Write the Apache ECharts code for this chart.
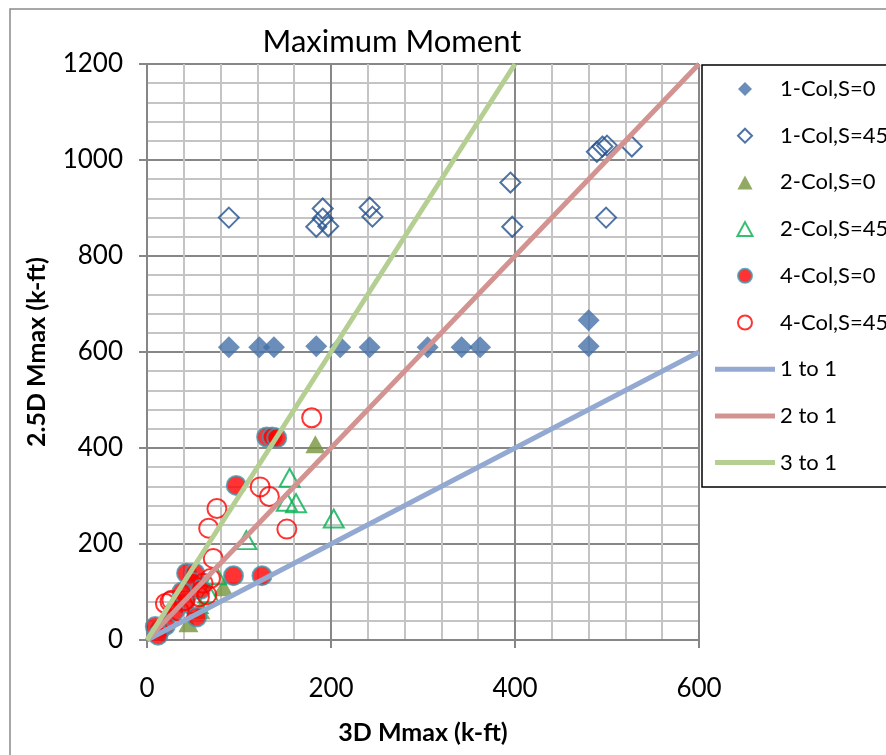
<!DOCTYPE html>
<html>
<head>
<meta charset="utf-8">
<script src="https://cdn.jsdelivr.net/npm/echarts@6/dist/echarts.min.js"></script>
<style>
  html, body { margin: 0; padding: 0; background: #fff; }
  #chart { width: 886px; height: 755px; }
</style>
</head>
<body>
<div id="chart"></div>
<script>
// values: [3D Mmax, 2.5D Mmax] in k-ft
var col1S0 = [[89,610],[122,610],[138,610],[184,612],[210,610],[242,610],[305,610],[342,610],[362,610],[480,612],[480,666]];
var col1S45 = [[89,880],[184,861],[191,878],[197,862],[191,899],[242,901],[245,882],[395,953],[397,861],[499,880],[489,1017],[495,1028],[500,1030],[527,1028]];
var col2S0 = [[183,408],[83,110],[45,35],[58,62]];
var col2S45 = [[155,338],[152,288],[162,285],[203,253],[108,208],[75,135],[67,97],[55,75]];
var col4S0 = [[130,423],[136,423],[141,421],[97,322],[94,134],[125,134],[43,139],[52,139],[41,77],[50,120],[58,105],[38,100],[30,60],[54,48],[20,30],[14,21],[9,28],[12,10]];
var col4S45 = [[179,463],[123,319],[133,299],[76,274],[67,233],[152,231],[72,170],[69,128],[61,118],[65,94],[57,90],[41,82],[25,80],[20,76],[27,83],[35,60]];

var oneToOne = [[0,0],[600,600]];
var twoToOne = [[0,0],[600,1200]];
var threeToOne = [[0,0],[400,1200]];

var xTicks = [0, 600, 200];
var yTicks = [0, 1200, 200];

var font = 'Lato, "DejaVu Sans", sans-serif';
var lineIcon = 'path://M0,0L60,0L60,5L0,5Z';
var diamondIcon = 'path://M7,0L14,7L7,14L0,7Z';
var triangleIcon = 'path://M7,0L14,13L0,13Z';

var chart = echarts.init(document.getElementById('chart'));

function scatter(name, data, symbol, size, style) {
    return {
        name: name,
        type: 'scatter',
        data: data,
        symbol: symbol,
        symbolSize: size,
        itemStyle: style,
        emphasis: {disabled: true}
    };
}

function refLine(name, data, color) {
    return {
        name: name,
        type: 'line',
        data: data,
        symbol: 'none',
        z: 5,
        lineStyle: {color: color, width: 5},
        itemStyle: {color: color},
        emphasis: {disabled: true}
    };
}

chart.setOption({
    backgroundColor: '#fff',
    animation: false,
    textStyle: {fontFamily: font},
    graphic: [{
        type: 'rect',
        shape: {x: 10, y: 9, width: 900, height: 800},
        style: {fill: 'none', stroke: '#8a8a8a', lineWidth: 1.5},
        silent: true,
        z: 0
    }, {
        type: 'rect',
        shape: {x: 702, y: 65, width: 200, height: 422},
        style: {fill: '#fff', stroke: '#000', lineWidth: 1.5},
        silent: true,
        z: 1
    }, {
        type: 'text',
        x: 392, y: 42,
        style: {
            text: 'Maximum Moment', font: '31px ' + font, fill: '#000',
            align: 'center', verticalAlign: 'middle'
        },
        z: 1
    }],
    grid: {left: 147, top: 64, right: 187, bottom: 115, containLabel: false},
    legend: {
        orient: 'vertical',
        left: 710,
        top: 72,
        itemWidth: 60,
        itemHeight: 14,
        itemGap: 22.7,
        z: 10,
        textStyle: {fontSize: 22, lineHeight: 24, color: '#000', fontFamily: font},
        data: [
            {name: '1-Col,S=0', icon: diamondIcon},
            {name: '1-Col,S=45', icon: diamondIcon},
            {name: '2-Col,S=0', icon: triangleIcon},
            {name: '2-Col,S=45', icon: triangleIcon},
            {name: '4-Col,S=0', icon: 'circle'},
            {name: '4-Col,S=45', icon: 'circle'},
            {name: '1 to 1', icon: lineIcon},
            {name: '2 to 1', icon: lineIcon},
            {name: '3 to 1', icon: lineIcon}
        ]
    },
    xAxis: {
        type: 'value',
        min: xTicks[0], max: xTicks[1], interval: xTicks[2],
        name: '3D Mmax (k-ft)',
        nameLocation: 'middle',
        nameGap: 80,
        nameTextStyle: {fontSize: 25, fontWeight: 'bold', color: '#000', fontFamily: font},
        axisLine: {lineStyle: {color: '#868686', width: 2}},
        axisTick: {show: true, length: 8, lineStyle: {color: '#868686', width: 2}},
        axisLabel: {fontSize: 26, color: '#000', margin: 36, fontFamily: font},
        splitLine: {lineStyle: {color: '#878787', width: 2}},
        minorTick: {show: false, splitNumber: 5},
        minorSplitLine: {show: true, lineStyle: {color: '#c4c4c4', width: 2}}
    },
    yAxis: {
        type: 'value',
        min: yTicks[0], max: yTicks[1], interval: yTicks[2],
        name: '2.5D Mmax (k-ft)',
        nameLocation: 'middle',
        nameGap: 98,
        nameTextStyle: {fontSize: 25, fontWeight: 'bold', color: '#000', fontFamily: font},
        axisLine: {show: true, lineStyle: {color: '#868686', width: 2}},
        axisTick: {show: true, length: 8, lineStyle: {color: '#868686', width: 2}},
        axisLabel: {
            fontSize: 26, color: '#000', margin: 24, fontFamily: font,
            formatter: function (v) { return String(v); }
        },
        splitLine: {lineStyle: {color: '#878787', width: 2}},
        minorTick: {show: false, splitNumber: 5},
        minorSplitLine: {show: true, lineStyle: {color: '#c4c4c4', width: 2}}
    },
    series: [
        scatter('1-Col,S=0', col1S0, 'diamond', 22, {color: '#4571a8'}),
        scatter('1-Col,S=45', col1S45, 'diamond', 20,
            {color: 'rgba(255,255,255,0)', borderColor: '#22508e', borderWidth: 2}),
        scatter('2-Col,S=0', col2S0, 'triangle', [20, 18], {color: '#77933c'}),
        scatter('2-Col,S=45', col2S45, 'triangle', [20, 18],
            {color: 'rgba(255,255,255,0)', borderColor: '#00b050', borderWidth: 2}),
        scatter('4-Col,S=0', col4S0, 'circle', 19,
            {color: '#ff0000', borderColor: '#4198af', borderWidth: 2}),
        scatter('4-Col,S=45', col4S45, 'circle', 19,
            {color: 'rgba(255,255,255,0)', borderColor: '#ff0000', borderWidth: 2}),
        refLine('1 to 1', oneToOne, '#93a9d2'),
        refLine('2 to 1', twoToOne, '#d39391'),
        refLine('3 to 1', threeToOne, '#b5cf93')
    ]
});
</script>
</body>
</html>
